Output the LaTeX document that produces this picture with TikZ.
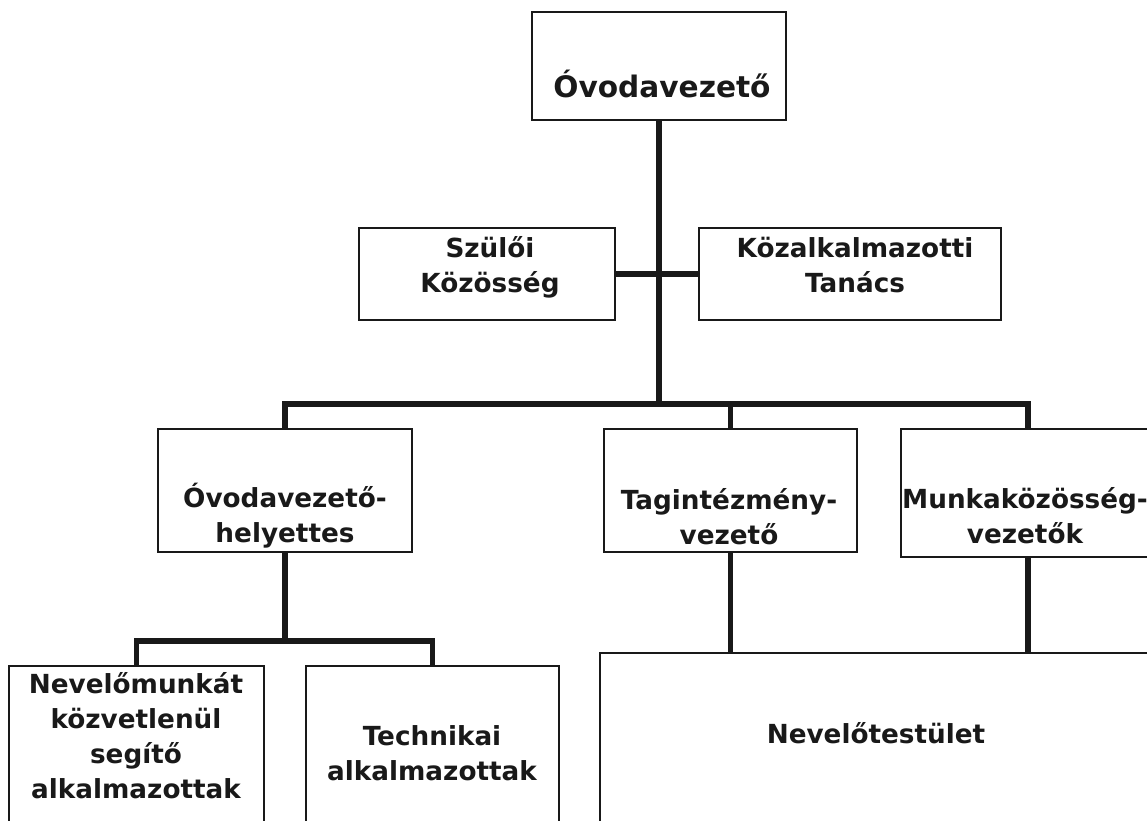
\documentclass[tikz,border=0pt]{standalone}
\usepackage{fontspec}
\setmainfont{DejaVu Sans}
\usetikzlibrary{fit}
\begin{document}
\begin{tikzpicture}[x=0.75pt,y=-0.75pt,
  box/.style={draw=black!90, line width=1.6pt, inner sep=0pt, rectangle},
  conn/.style={draw=black!90, line width=4pt},
  lbl/.style={inner sep=0pt, anchor=base, text=black!90, font=\bfseries\fontsize{19.7}{26.25}\selectfont},
  toplbl/.style={lbl, font=\bfseries\fontsize{22.2}{28}\selectfont},
]
\useasboundingbox (0,0) rectangle (1147,821);
\clip (0,0) rectangle (1147,821);

% boxes
\node[box, fit={(532,12) (786,120)}] (top) {};
\node[box, fit={(359,228) (615,320)}] (szul) {};
\node[box, fit={(699,228) (1001,320)}] (kozalk) {};
\node[box, fit={(158,429) (412,552)}] (hely) {};
\node[box, fit={(604,429) (857,552)}] (tag) {};
\node[box, fit={(901,429) (1155,557)}] (munka) {};
\node[box, fit={(9,666) (264,840)}] (nev) {};
\node[box, fit={(306,666) (559,840)}] (tech) {};
\node[box, fit={(600,653) (1160,840)}] (nt) {};

% labels
\node[toplbl] (ttop) at (662,97) {Óvodavezető};
\node[lbl] (tszul) at (490,257) {\begin{tabular}[t]{@{}c@{}}Szülői\\Közösség\end{tabular}};
\node[lbl] (tkoz) at (855,257) {\begin{tabular}[t]{@{}c@{}}Közalkalmazotti\\Tanács\end{tabular}};
\node[lbl] (thely) at (285,507) {\begin{tabular}[t]{@{}c@{}}Óvodavezető-\\helyettes\end{tabular}};
\node[lbl] (ttag) at (729,509) {\begin{tabular}[t]{@{}c@{}}Tagintézmény-\\vezető\end{tabular}};
\node[lbl] (tmunka) at (1025,508) {\begin{tabular}[t]{@{}c@{}}Munkaközösség-\\vezetők\end{tabular}};
\node[lbl] (tnev) at (136,693) {\begin{tabular}[t]{@{}c@{}}Nevelőmunkát\\közvetlenül\\segítő\\alkalmazottak\end{tabular}};
\node[lbl] (ttech) at (432,745) {\begin{tabular}[t]{@{}c@{}}Technikai\\alkalmazottak\end{tabular}};
\node[lbl] (tnt) at (876,743) {Nevelőtestület};

% connectors
\coordinate (bar) at (0,404);
\coordinate (bar2) at (0,641);
\draw[conn] (top.south) -- (top.south |- bar);
\draw[conn] (szul.east) -- (kozalk.west);
\draw[conn] (hely.north) |- (munka.north |- bar) -- (munka.north);
\draw[conn] (tag.north) -- (tag.north |- bar);
\draw[conn] (hely.south) -- (hely.south |- bar2);
\draw[conn] (nev.north) |- (tech.north |- bar2) -- (tech.north);
\draw[conn] (tag.south) -- (tag.south |- nt.north);
\draw[conn] (munka.south) -- (munka.south |- nt.north);
\end{tikzpicture}
\end{document}
